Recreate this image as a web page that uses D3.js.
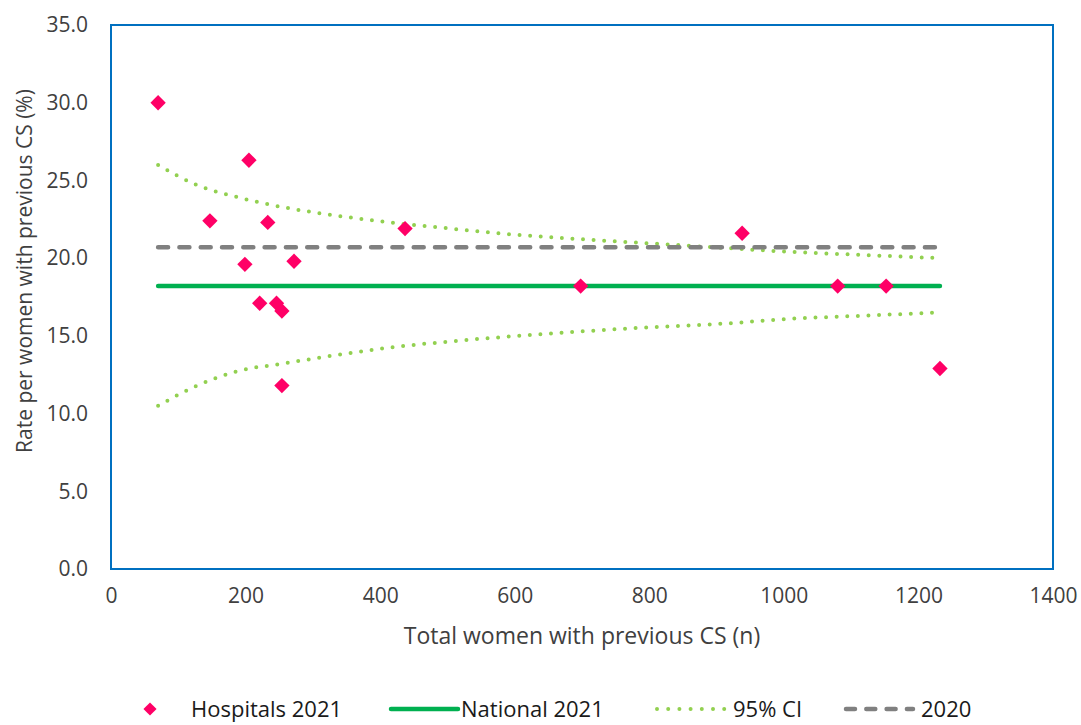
<!DOCTYPE html>
<html>
<head>
<meta charset="utf-8">
<script src="https://cdn.jsdelivr.net/npm/d3@7"></script>
<style>
body{margin:0;background:#fff;}
svg{display:block;font-family:"Open Sans",sans-serif;}
</style>
</head>
<body>
<svg></svg>
<script>
var width=1081;
var height=725;

// hospital points: n and rate (%)
var hospN=[70,205,147,233,437,938,199,272,221,246,254,254,698,1080,1152,1232];
var hospRate=[30.0,26.3,22.4,22.3,21.9,21.6,19.6,19.8,17.1,17.1,16.6,11.8,18.2,18.2,18.2,12.9];

var lineN=[70,1232];
var national2021=[18.2,18.2];
var rate2020=[20.7,20.7];

var ciN=[70,128,190,253,333,414,494,575,687,801,915,1011,1120,1232];
var ciUpper=[26.0,24.7,23.9,23.3,22.75,22.3,21.95,21.6,21.25,20.95,20.65,20.4,20.2,20.0];
var ciLower=[10.5,11.8,12.75,13.2,13.75,14.25,14.6,14.9,15.25,15.55,15.8,16.1,16.3,16.5];

var xTicks=[0,200,400,600,800,1000,1200,1400];
var yTicks=[0,5,10,15,20,25,30,35];

var svg=d3.select("svg")
	.attr("width",width)
	.attr("height",height);

var scalex=d3.scaleLinear()
	.domain([0,1400])
	.range([111,1053]);

var scaley=d3.scaleLinear()
	.domain([0,35])
	.range([569,25]);

// axes (no tick marks, labels only)
var yaxis=d3.axisLeft(scaley)
	.tickValues(yTicks)
	.tickFormat(d3.format(".1f"))
	.tickSize(0)
	.tickPadding(23);

var xaxis=d3.axisBottom(scalex)
	.tickValues(xTicks)
	.tickFormat(d3.format("d"))
	.tickSize(0)
	.tickPadding(19);

var gy=svg.append("g")
	.attr("transform","translate("+scalex(0)+",0)")
	.call(yaxis);
var gx=svg.append("g")
	.attr("transform","translate(0,"+scaley(0)+")")
	.call(xaxis);

[gx,gy].forEach(function(g){
	g.select(".domain").remove();
	g.selectAll("text")
		.attr("font-family","Open Sans")
		.attr("font-size",21)
		.attr("fill","#404040");
});

// plot frame
svg.append("rect")
	.attr("x",scalex(0))
	.attr("y",scaley(35))
	.attr("width",scalex(1400)-scalex(0))
	.attr("height",scaley(0)-scaley(35))
	.attr("fill","none")
	.attr("stroke","#0070C0")
	.attr("stroke-width",2);

var line=d3.line()
	.x(d=>scalex(d[0]))
	.y(d=>scaley(d[1]));

var ciLine=d3.line()
	.x(d=>scalex(d[0]))
	.y(d=>scaley(d[1]))
	.curve(d3.curveMonotoneX);

// 95% CI curves
[ciUpper,ciLower].forEach(function(arr){
	svg.append("path")
		.datum(ciN.map((n,i)=>[n,arr[i]]))
		.attr("d",ciLine)
		.attr("fill","none")
		.attr("stroke","#92D050")
		.attr("stroke-width",4)
		.attr("stroke-linecap","round")
		.attr("stroke-dasharray","0,10.6");
});

// 2020 dashed
svg.append("path")
	.datum(lineN.map((n,i)=>[n,rate2020[i]]))
	.attr("d",line)
	.attr("fill","none")
	.attr("stroke","#808080")
	.attr("stroke-width",4.5)
	.attr("stroke-linecap","round")
	.attr("stroke-dasharray","10,11.3");

// national 2021
svg.append("path")
	.datum(lineN.map((n,i)=>[n,national2021[i]]))
	.attr("d",line)
	.attr("fill","none")
	.attr("stroke","#00B050")
	.attr("stroke-width",4.5)
	.attr("stroke-linecap","round");

// hospital diamonds
var diamond=d3.symbol().type(d3.symbolDiamond2).size(150);
svg.selectAll(".hosp")
	.data(hospN)
	.enter()
	.append("path")
	.classed("hosp",true)
	.attr("d",diamond)
	.attr("transform",(d,i)=>"translate("+scalex(d)+","+scaley(hospRate[i])+")")
	.attr("fill","#FF0066");

// axis titles
svg.append("text")
	.attr("x",(scalex(0)+scalex(1400))/2)
	.attr("y",644)
	.attr("text-anchor","middle")
	.attr("font-size",23)
	.attr("fill","#404040")
	.text("Total women with previous CS (n)");

svg.append("text")
	.attr("transform","translate(32,271) rotate(-90)")
	.attr("text-anchor","middle")
	.attr("font-size",21)
	.attr("fill","#404040")
	.text("Rate per women with previous CS (%)");

// legend
var ly=709;
var legend=svg.append("g").attr("font-size",22).attr("fill","#1a1a1a");

legend.append("path")
	.attr("d",d3.symbol().type(d3.symbolDiamond2).size(110))
	.attr("transform","translate(150,"+ly+")")
	.attr("fill","#FF0066");
legend.append("text").attr("x",191).attr("y",ly+8).text("Hospitals 2021");

legend.append("line")
	.attr("x1",391).attr("x2",458).attr("y1",ly).attr("y2",ly)
	.attr("stroke","#00B050").attr("stroke-width",4.5).attr("stroke-linecap","round");
legend.append("text").attr("x",461).attr("y",ly+8).text("National 2021");

legend.append("line")
	.attr("x1",657).attr("x2",725).attr("y1",ly).attr("y2",ly)
	.attr("stroke","#92D050").attr("stroke-width",4).attr("stroke-linecap","round")
	.attr("stroke-dasharray","0,11.2");
legend.append("text").attr("x",733).attr("y",ly+8).text("95% CI");

legend.append("line")
	.attr("x1",846).attr("x2",913).attr("y1",ly).attr("y2",ly)
	.attr("stroke","#808080").attr("stroke-width",4.5).attr("stroke-linecap","round")
	.attr("stroke-dasharray","9,11.3");
legend.append("text").attr("x",921).attr("y",ly+8).text("2020");
</script>
</body>
</html>
